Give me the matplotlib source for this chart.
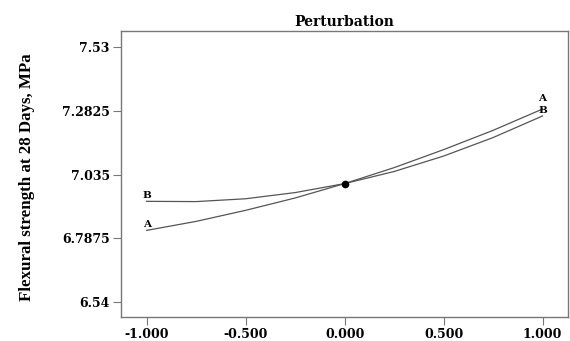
import matplotlib
matplotlib.use("Agg")
import matplotlib.pyplot as plt

plt.rcParams['font.family'] = ['DejaVu Serif', 'Liberation Serif']
plt.rcParams['font.weight'] = 'bold'

# deviation from reference point (coded units)
deviation = [-1.0, -0.75, -0.5, -0.25, 0.0, 0.25, 0.5, 0.75, 1.0]
# flexural strength at 28 days, MPa
factor_a = [6.818, 6.853, 6.896, 6.944, 7.000, 7.062, 7.132, 7.207, 7.290]
factor_b = [6.931, 6.930, 6.941, 6.965, 7.000, 7.047, 7.107, 7.179, 7.263]

x_ticks = [-1.0, -0.5, 0.0, 0.5, 1.0]
x_labels = ["-1.000", "-0.500", "0.000", "0.500", "1.000"]
y_ticks = [6.54, 6.7875, 7.035, 7.2825, 7.53]
y_labels = ["6.54", "6.7875", "7.035", "7.2825", "7.53"]

fig = plt.figure(figsize=(5.7, 3.41), dpi=100)
ax = fig.add_axes([0.212, 0.071, 0.785, 0.837])

line_col = "#555555"
ax.plot(deviation, factor_a, color=line_col, lw=0.9)
ax.plot(deviation, factor_b, color=line_col, lw=0.9)
ax.plot([0.0], [factor_a[4]], marker='o', ms=4.5, color='black')

lbl = dict(fontsize=7.5, fontweight='bold', ha='center', va='bottom')
ax.text(deviation[0], factor_a[0] + 0.004, "A", **lbl)
ax.text(deviation[0], factor_b[0] + 0.004, "B", **lbl)
ax.text(deviation[-1], factor_b[-1] + 0.004, "B", **lbl)
ax.text(deviation[-1], factor_a[-1] + 0.022, "A", **lbl)

ax.set_xlim(-1.13, 1.13)
ax.set_ylim(6.482, 7.592)
ax.set_xticks(x_ticks)
ax.set_xticklabels(x_labels)
ax.set_yticks(y_ticks)
ax.set_yticklabels(y_labels)
ax.tick_params(direction='out', length=6, width=0.8, color='#777777',
               labelsize=9, pad=2)
for lab in ax.get_xticklabels() + ax.get_yticklabels():
    lab.set_fontweight('bold')

for s in ax.spines.values():
    s.set_color('#777777')
    s.set_linewidth(1.0)

ax.set_title("Perturbation", fontsize=10, fontweight='bold', pad=4)
fig.text(0.048, 0.48, "Flexural strength at 28 Days, MPa", rotation=90,
         fontsize=12.2, fontweight='bold', ha='center', va='center',
         family=['Liberation Serif', 'DejaVu Serif'])

fig.savefig("out.png", dpi=100)
